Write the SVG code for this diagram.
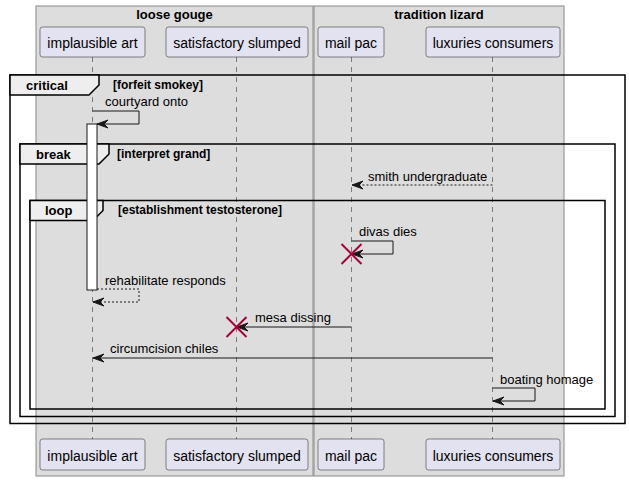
<svg xmlns="http://www.w3.org/2000/svg" width="629" height="481" viewBox="0 0 629 481">
<defs>
<style>
.box{fill:#DDDDDD;stroke:#888888;stroke-width:1}
.bt{font-family:"Liberation Sans",Arial,sans-serif;font-size:13px;font-weight:bold;fill:#000;text-anchor:middle}
.p{fill:#E2E2F0;stroke:#181818;stroke-width:0.5}
.pt{font-family:"Liberation Sans",Arial,sans-serif;font-size:14px;fill:#000;text-anchor:middle}
.ll{stroke:#181818;stroke-width:0.5;stroke-dasharray:5,5;fill:none}
.fr{fill:none;stroke:#000;stroke-width:1.5}
.tab{fill:#EEEEEE;stroke:#000;stroke-width:1.5}
.ft{font-family:"Liberation Sans",Arial,sans-serif;font-size:13px;font-weight:bold;fill:#000}
.fc{font-family:"Liberation Sans",Arial,sans-serif;font-size:12px;font-weight:bold;fill:#000}
.m{stroke:#181818;stroke-width:1;fill:none}
.md{stroke:#181818;stroke-width:1;fill:none;stroke-dasharray:2,2}
.mt{font-family:"Liberation Sans",Arial,sans-serif;font-size:13px;fill:#000}
.ah{fill:#181818;stroke:#181818;stroke-width:1}
.x{stroke:#A80036;stroke-width:2}
.act{fill:#FFFFFF;stroke:#181818;stroke-width:1}
</style>
</defs>
<rect width="629" height="481" fill="#FFFFFF"/>
<g id="box-loose-gouge">
<rect class="box" x="36" y="6" width="277" height="470"/>
<text class="bt" x="174.5" y="19">loose gouge</text>
</g>
<g id="box-tradition-lizard">
<rect class="box" x="314" y="6" width="250" height="470"/>
<text class="bt" x="439" y="19">tradition lizard</text>
</g>
<g id="lifelines">
<line class="ll" x1="92.5" y1="57" x2="92.5" y2="439"/>
<line class="ll" x1="236.5" y1="57" x2="236.5" y2="439"/>
<line class="ll" x1="351.5" y1="57" x2="351.5" y2="439"/>
<line class="ll" x1="492.5" y1="57" x2="492.5" y2="439"/>
</g>
<g id="implausible-art">
<rect class="p" x="40" y="27" width="105" height="30" rx="2.5"/>
<text class="pt" x="92.5" y="48">implausible art</text>
<rect class="p" x="40" y="439" width="105" height="31" rx="2.5"/>
<text class="pt" x="92.5" y="461">implausible art</text>
</g>
<g id="satisfactory-slumped">
<rect class="p" x="166" y="27" width="142" height="30" rx="2.5"/>
<text class="pt" x="237" y="48">satisfactory slumped</text>
<rect class="p" x="166" y="439" width="142" height="31" rx="2.5"/>
<text class="pt" x="237" y="461">satisfactory slumped</text>
</g>
<g id="mail-pac">
<rect class="p" x="318" y="27" width="66" height="30" rx="2.5"/>
<text class="pt" x="351" y="48">mail pac</text>
<rect class="p" x="318" y="439" width="66" height="31" rx="2.5"/>
<text class="pt" x="351" y="461">mail pac</text>
</g>
<g id="luxuries-consumers">
<rect class="p" x="426" y="27" width="134" height="30" rx="2.5"/>
<text class="pt" x="493" y="48">luxuries consumers</text>
<rect class="p" x="426" y="439" width="134" height="31" rx="2.5"/>
<text class="pt" x="493" y="461">luxuries consumers</text>
</g>
<g id="frame-critical">
<rect class="fr" x="10" y="75" width="615" height="348.5"/>
<polygon class="tab" points="10,75 99,75 99,85 89,95 10,95"/>
<text class="ft" x="26" y="90">critical</text>
<text class="fc" x="113" y="89">[forfeit smokey]</text>
</g>
<g id="frame-break">
<rect class="fr" x="20" y="144" width="595" height="272.5"/>
<polygon class="tab" points="20,144 109,144 109,154 99,164 20,164"/>
<text class="ft" x="36" y="159">break</text>
<text class="fc" x="117" y="158">[interpret grand]</text>
</g>
<g id="frame-loop">
<rect class="fr" x="30" y="200.5" width="575" height="208.5"/>
<polygon class="tab" points="30,200.5 103,200.5 103,210.5 93,220.5 30,220.5"/>
<text class="ft" x="45" y="215">loop</text>
<text class="fc" x="118" y="214">[establishment testosterone]</text>
</g>
<g id="activation">
<rect class="act" x="87" y="124" width="10" height="166"/>
</g>
<g id="connectors">
<polyline class="m" points="92.5,111 139,111 139,124 97,124"/>
<polygon class="ah" points="97,124 108,120 104,124 108,128"/>
<text class="mt" x="105" y="106">courtyard onto</text>
<line class="md" x1="492.5" y1="185" x2="352" y2="185"/>
<polygon class="ah" points="352,185 363,181 359,185 363,189"/>
<text class="mt" x="368" y="181">smith undergraduate</text>
<polyline class="m" points="351.5,241 393,241 393,254 352,254"/>
<polygon class="ah" points="352,254 363,250 359,254 363,258"/>
<line class="x" x1="341.5" y1="244" x2="361.5" y2="264"/>
<line class="x" x1="361.5" y1="244" x2="341.5" y2="264"/>
<text class="mt" x="359" y="236">divas dies</text>
<polyline class="md" points="97,289 139,289 139,302 93,302"/>
<polygon class="ah" points="93,302 104,298 100,302 104,306"/>
<text class="mt" x="105" y="285">rehabilitate responds</text>
<line class="m" x1="351.5" y1="327" x2="237" y2="327"/>
<polygon class="ah" points="237,327 248,323 244,327 248,331"/>
<line class="x" x1="226.5" y1="317" x2="246.5" y2="337"/>
<line class="x" x1="246.5" y1="317" x2="226.5" y2="337"/>
<text class="mt" x="255" y="322">mesa dissing</text>
<line class="m" x1="492.5" y1="358" x2="93" y2="358"/>
<polygon class="ah" points="93,358 104,354 100,358 104,362"/>
<text class="mt" x="110" y="353">circumcision chiles</text>
<polyline class="m" points="492.5,388 535,388 535,401 493,401"/>
<polygon class="ah" points="493,401 504,397 500,401 504,405"/>
<text class="mt" x="500" y="384">boating homage</text>
</g>
</svg>
